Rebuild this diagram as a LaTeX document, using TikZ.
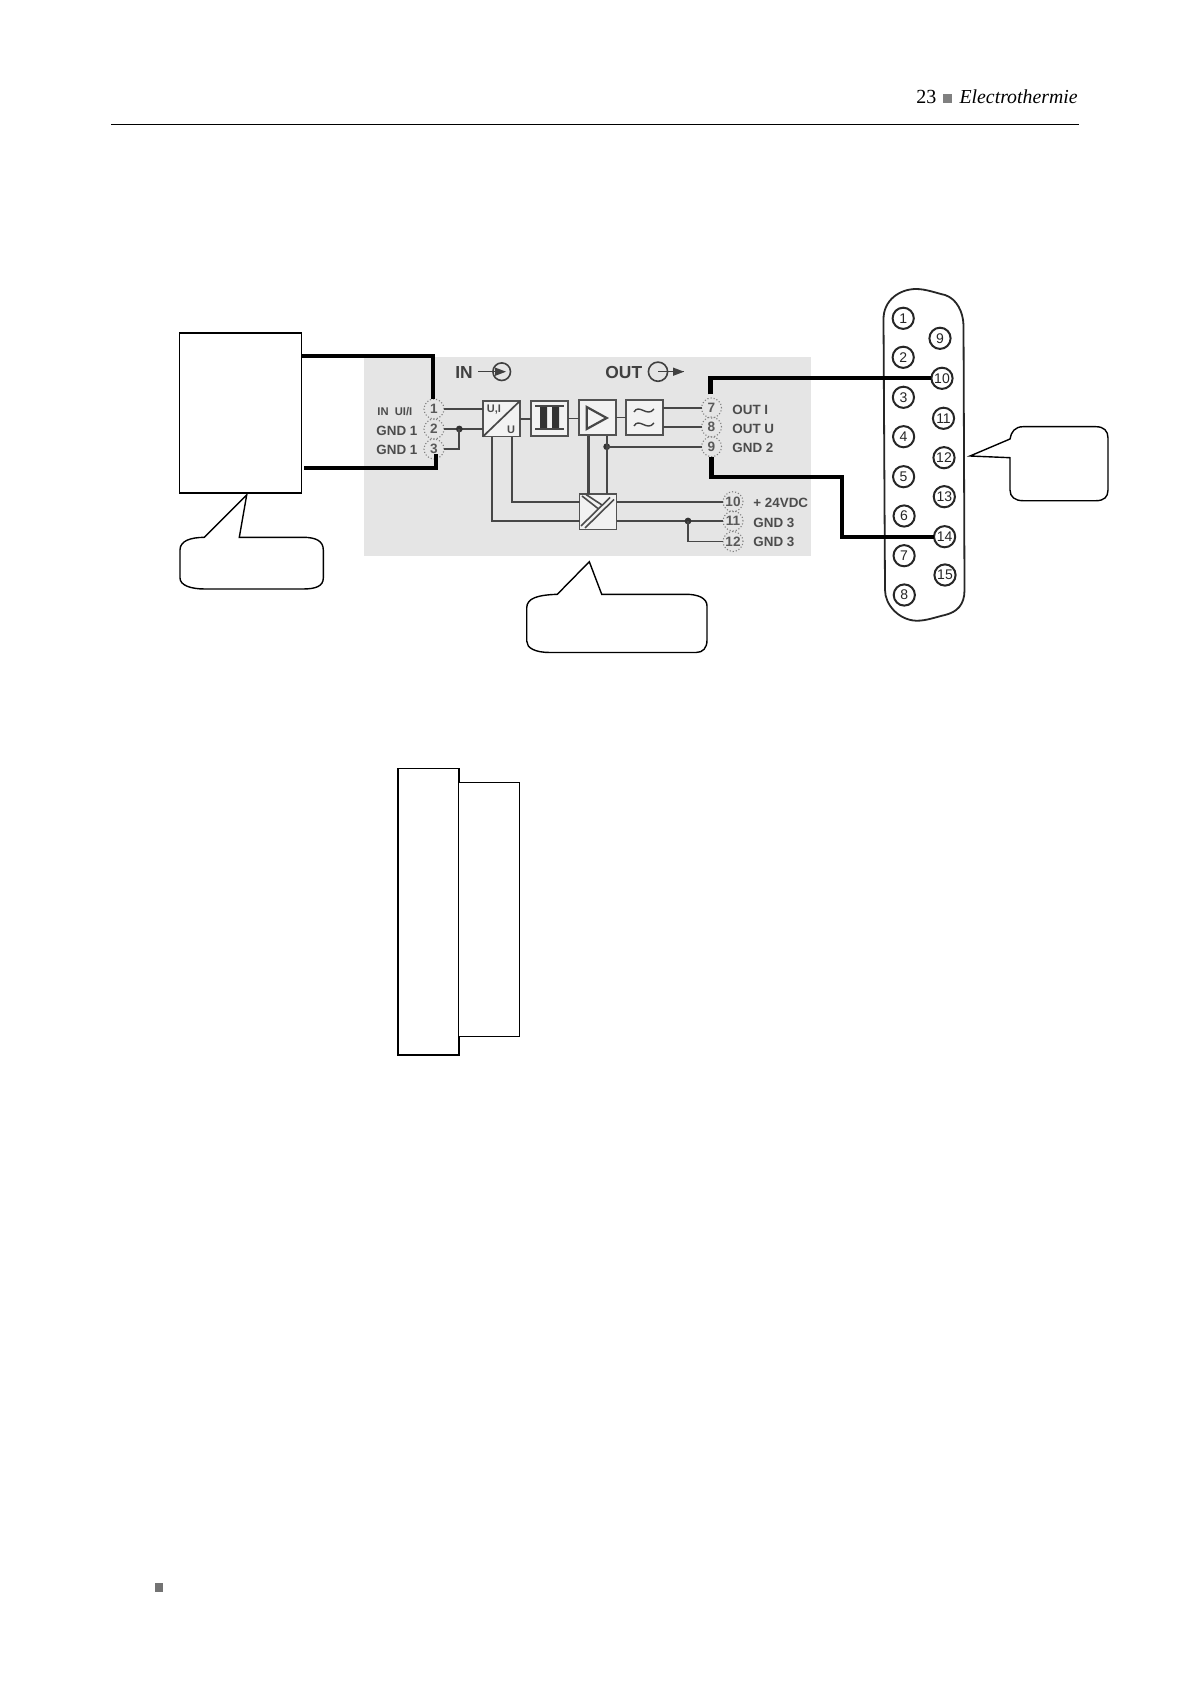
\documentclass[tikz,border=0pt]{standalone}
\usepackage{fontspec}
\setmainfont{Liberation Serif}
\setsansfont{Liberation Sans}
\begin{document}
\begin{tikzpicture}[x=0.5pt,y=-0.5pt,
  ink/.style={draw=black,line width=0.7pt},
  bluck/.style={ink,fill=white,inner sep=0pt,outer sep=0pt},
  heavy/.style={draw=black,line width=2.2pt,line join=miter},
  wire/.style={draw=black!72,line width=0.85pt},
  blockbox/.style={draw=black!68,line width=0.9pt,fill=black!5,inner sep=0pt,outer sep=0pt,minimum width=18.5pt,minimum height=17.8pt},
  termpin/.style={circle,draw=black!50,line width=0.55pt,densely dotted,inner sep=0pt,outer sep=0pt,minimum size=10pt,font=\sffamily\bfseries\fontsize{6.8}{7}\selectfont,text=black!65},
  subpin/.style={circle,draw=black!85,line width=1pt,inner sep=0pt,outer sep=0pt,minimum size=10.6pt,font=\sffamily\fontsize{7}{7}\selectfont,text=black!85},
  lab/.style={font=\sffamily\bfseries\fontsize{6.7}{7}\selectfont,text=black!70,inner sep=0pt,anchor=west},
  biglab/.style={font=\sffamily\bfseries\fontsize{8.7}{9}\selectfont,text=black!75,inner sep=0pt},
  solder/.style={circle,fill=black!80,inner sep=0pt,minimum size=3.4pt}]
\useasboundingbox (0,0) rectangle (1190,1684);
\fill[white] (0,0) rectangle (1190,1684);
% page furniture
\node[anchor=base east,inner sep=0pt,font=\fontsize{9.9}{10}\selectfont\itshape] (hdr) at (1078,104) {Electrothermie};
\node[anchor=base west,inner sep=0pt,font=\fontsize{10}{10}\selectfont] (pg) at (916,104) {23};
\fill[black!50] (943,94.5) rectangle (952,103.5);
\draw[black,line width=0.6pt] (111,124.5) -- (1079,124.5);
\fill[black!55] (155,1583) rectangle (163,1592);
% scanned panel
\fill[black!10] (364,357) rectangle (810.5,556);
% terminals
\node[termpin] (T1) at (434,409) {1};
\node[termpin] (T2) at (434,429) {2};
\node[termpin] (T3) at (434,449) {3};
\node[termpin] (T7) at (711.5,408) {7};
\node[termpin] (T8) at (711.5,427) {8};
\node[termpin] (T9) at (711.5,446.7) {9};
\node[termpin] (T10) at (733,501.7) {10};
\node[termpin] (T11) at (733,521) {11};
\node[termpin] (T12) at (733,541.5) {12};
% terminal labels
\node[lab,font=\sffamily\bfseries\fontsize{5.6}{6}\selectfont] (l1) at (377,411.5) {IN\ \ UI/I};
\node[lab] (l2) at (376,431) {GND\ 1};
\node[lab] (l3) at (376,450) {GND\ 1};
\node[lab] (l7) at (732,409.5) {OUT I};
\node[lab] (l8) at (732,429) {OUT U};
\node[lab] (l9) at (732,448) {GND 2};
\node[lab] (l10) at (753,502.5) {+ 24VDC};
\node[lab] (l11) at (753,522.5) {GND 3};
\node[lab] (l12) at (753,542) {GND 3};
% IN / OUT
\node[biglab,anchor=west] (inl) at (455,373) {IN};
\node[biglab,anchor=west] (outl) at (605,372.5) {OUT};
\node[circle,draw=black!75,line width=0.8pt,minimum size=8.8pt,inner sep=0pt] (inc) at (501.7,371.7) {};
\node[circle,draw=black!75,line width=0.8pt,minimum size=9.6pt,inner sep=0pt] (outc) at (658,371.7) {};
\coordinate (ina) at (478,371.7);
\coordinate (outa) at (684,371.7);
\draw[draw=black!75,line width=0.8pt] (ina) -- (inc.center);
\fill[black!75] (506,371.7) -- (495,367.5) -- (495,375.9) -- cycle;
\draw[draw=black!75,line width=0.8pt] (outc.center) -- (outa);
\fill[black!75] (684,371.7) -- (673,367.5) -- (673,375.9) -- cycle;
% blocks
\node[blockbox] (ui) at (501.4,418.8) {};
\node[blockbox] (tr) at (549.5,418.5) {};
\node[blockbox] (amp) at (597.2,417.5) {};
\node[blockbox] (flt) at (644.3,417.5) {};
\node[blockbox] (iso) at (598,511.7) {};
% block contents
\draw[wire] (ui.north east) -- (ui.south west);
\node[inner sep=0pt,font=\sffamily\bfseries\fontsize{5.5}{6}\selectfont,text=black!70] (uit) at (494,409.5) {U,I};
\node[inner sep=0pt,font=\sffamily\bfseries\fontsize{5.5}{6}\selectfont,text=black!70] (uib) at (511,430) {U};
\fill[black!80] (540,406) rectangle (547,429) (552,406) rectangle (559,429);
\draw[wire] (535,406) -- (564,406) (535,429) -- (564,429);
\draw[wire,line width=1.1pt,line join=miter] (586.7,407) -- (606.7,418) -- (586.7,429) -- cycle;
\draw[draw=black!75,line width=0.7pt] (634,412) .. controls (639,403) and (647,418) .. (654,409);
\draw[draw=black!75,line width=0.7pt] (634,426) .. controls (639,417) and (647,432) .. (654,423);
\draw[draw=black!70,line width=0.8pt] (581,526) -- (610,497.5) (585,528) -- (614,499.5);
\draw[draw=black!70,line width=0.8pt] (582,496) -- (598,508.5) (586,494.5) -- (602,505);
% signal wires
\draw[wire] (T1.east) -- (ui.west |- T1);
\draw[wire,line width=1.1pt] (T2.east) -- (ui.west |- T2);
\node[solder] (j2) at (459.3,429) {};
\draw[wire] (j2.center) |- (T3.east);
\draw[wire] (ui.east) -- (tr.west |- ui.east);
\draw[wire] (tr.east) -- (amp.west |- tr.east);
\draw[wire] (amp.east) -- (flt.west |- amp.east);
\coordinate (f7) at (flt.east |- T7);
\coordinate (f8) at (flt.east |- T8);
\draw[wire,line width=1.1pt] (f7) -- (T7.west);
\draw[wire] (f8) -- (T8.west);
\node[solder] (j9) at (606.7,446.7) {};
\draw[wire,line width=1.1pt] (j9.center) -- (T9.west);
\coordinate (a1b) at (588.3,436);
\coordinate (a1c) at (588.3,494);
\coordinate (a2b) at (606.7,436);
\coordinate (a2c) at (606.7,494);
\draw[wire,line width=1.3pt] (a1b) -- (a1c);
\draw[wire] (a2b) -- (a2c);
\coordinate (ub1) at (512,436.7);
\coordinate (ub2) at (492.3,436.7);
\coordinate (iso1) at (iso.west |- T10);
\coordinate (iso2) at (iso.west |- T11);
\draw[wire] (ub1) |- (iso1);
\draw[wire] (ub2) |- (iso2);
\draw[wire] (iso.east |- T10) -- (T10.west);
\draw[wire,line width=1pt] (iso.east |- T11) -- (T11.west);
\node[solder] (j11) at (688,521) {};
\draw[wire] (j11.center) |- (T12.west);
% sub-D connector
\draw[draw=black!85,line width=0.9pt]
  (883.5,320) .. controls (883,300) and (900,289) .. (916,289)
  .. controls (926,289) and (936,293) .. (945,295)
  .. controls (957,299) and (963,312) .. (963.5,325)
  -- (964.5,590)
  .. controls (964.5,605) and (957,612) .. (945,615)
  .. controls (936,617) and (926,621) .. (916,620.7)
  .. controls (899,620) and (885,605) .. (885,590) -- cycle;
\foreach \n/\px/\py in {1/903.2/318.3,2/903.2/357.3,3/903.4/397.3,4/903.6/436.7,5/903.6/476.7,6/904.1/516,7/904.1/555.7,8/904.3/595,9/940/338.3,10/942/378.3,11/943.5/418.3,12/944/457.7,13/944.3/496.7,14/944.6/536.7,15/945/575}
  \node[subpin] (S\n) at (\px,\py) {\n};
% white boxes
\node[bluck,minimum width=61pt,minimum height=80pt] (src) at (240.5,413) {};
\coordinate (a1) at (301.5,356);
\coordinate (a2) at (304,467.7);
% heavy added wires
\draw[heavy] (a1) -| ([xshift=-0.6pt]T1.north);
\draw[heavy] (a2) -| ([xshift=0.85pt,yshift=2.5pt]T3.south);
\draw[heavy] ([xshift=-0.6pt,yshift=1.8pt]T7.north) |- (S10.west);
\coordinate (mid1) at (842,477);
\coordinate (mid2) at (842,536.7);
\draw[heavy] (T9.south) |- (mid1) -- (mid2) -- (S14.west);
% callouts
\draw[ink,fill=white,line join=miter] (246.7,495) -- (204.3,537.3)
  .. controls (190,537.5) and (180,541) .. (180,550) -- (180,578)
  .. controls (180,585) and (190,589) .. (205,589) -- (303,589)
  .. controls (316,589) and (323.3,586) .. (323.3,578) -- (323.3,550)
  .. controls (323.3,541) and (316,537.3) .. (303,537.3) -- (239.3,537.3) -- cycle;
\draw[ink,fill=white,line join=miter] (589.3,561.7) -- (557.3,594.3)
  .. controls (538,595) and (526.7,598) .. (526.7,608) -- (526.7,641)
  .. controls (526.7,648) and (535,652.5) .. (550,652.5) -- (696,652.5)
  .. controls (703,652.5) and (707,648) .. (707,640) -- (707,606)
  .. controls (707,598) and (698,594.3) .. (686,594.3) -- (601.7,594.3) -- cycle;
\draw[ink,fill=white,line join=miter] (970,456) -- (1010,439)
  .. controls (1011,432) and (1015,426.7) .. (1023,426.7) -- (1096,426.7)
  .. controls (1104,426.7) and (1108,431) .. (1108,438) -- (1108,490)
  .. controls (1108,497) and (1104,500.7) .. (1096,500.7) -- (1023,500.7)
  .. controls (1015,500.7) and (1010,497) .. (1010,490) -- (1010,457.7) -- cycle;
% lower boxes
\node[bluck,line width=0.9pt,minimum width=30.5pt,minimum height=143.3pt] (frontp) at (428.2,911.7) {};
\node[bluck,minimum width=30.3pt,minimum height=127.2pt] (backp) at (489,909.5) {};
\end{tikzpicture}
\end{document}
